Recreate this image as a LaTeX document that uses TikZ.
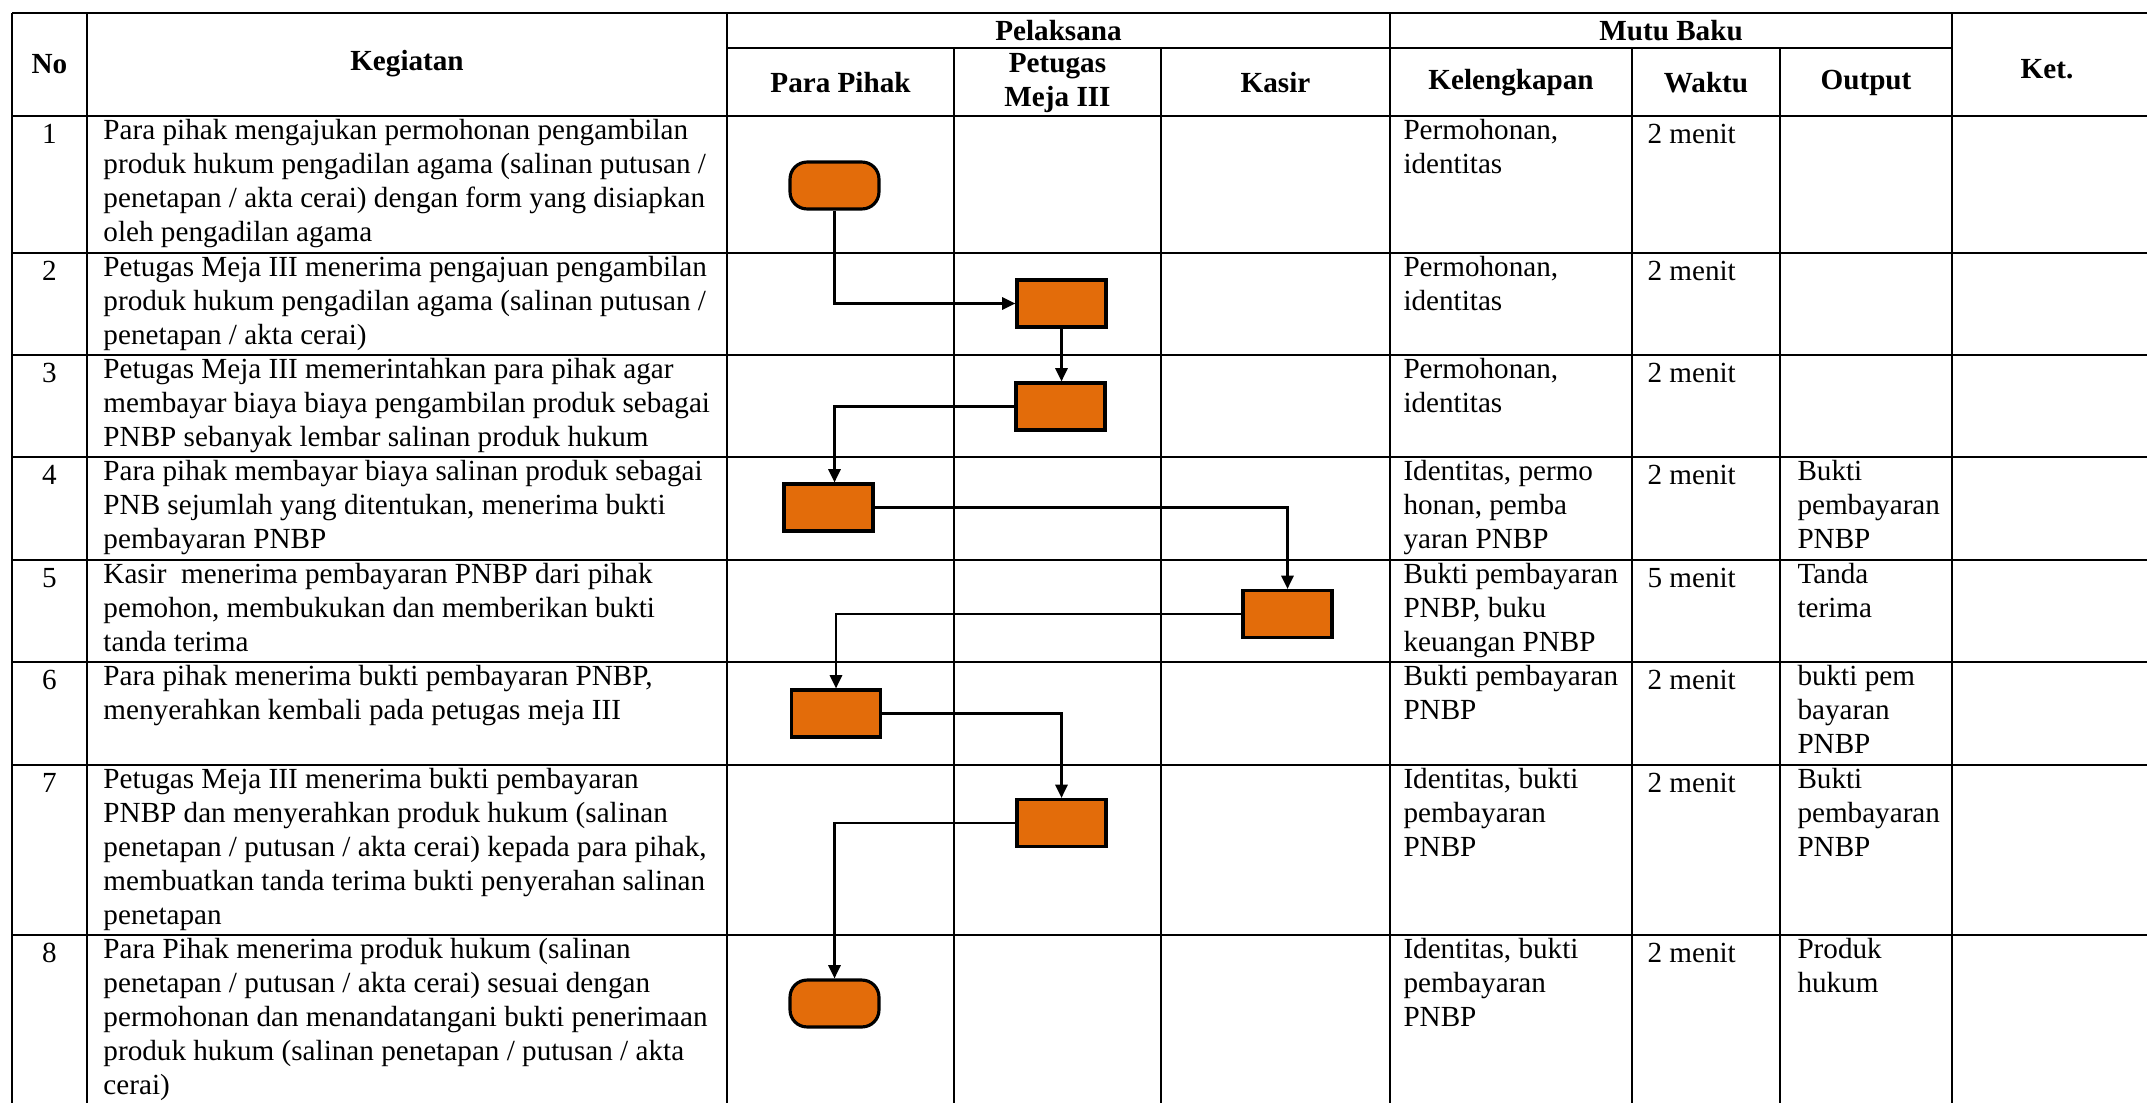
\documentclass[tikz,border=0pt]{standalone}
\usepackage{fontspec}
\setmainfont{Liberation Serif}
\usepackage{tikz}
\usetikzlibrary{arrows.meta}
\tikzstyle{sheet} = [x = 0.4115pt, y = -0.4115pt]
\definecolor{boxColor}{RGB}{227,108,10}
\tikzstyle{gridLine} = [color=black, line width=0.7pt]
\tikzstyle{headText} = [font=\bfseries\fontsize{12}{14}\selectfont, align=center, inner sep=0]
\tikzstyle{bodyText} = [font=\fontsize{12}{14}\selectfont, align=left, anchor=north west, inner sep=0, execute at begin node=\strut]
\tikzstyle{numText} = [bodyText, anchor=north]
\tikzstyle{processBox} = [draw, fill=boxColor, line width=1.3pt, minimum width=36.6pt, minimum height=19.3pt, inner sep=0]
\tikzstyle{terminalBox} = [processBox, rounded corners=7pt]
\tikzstyle{flowLine} = [line width=1.1pt, -{Triangle[length=5.5pt, width=5pt]}]
\newcommand{\padTop}{3}
\newcommand{\rowLine}[1]{\draw [gridLine] (12, #1) -- (2147, #1);}
\newcommand{\colLine}[2]{\draw [gridLine] (#1, #2) -- (#1, 1103);}
\newcommand{\cellText}[4]{\node [bodyText] (#1) at (#2, #3 + \padTop) {#4};}
\newcommand{\rowNumber}[2]{\node [numText] (no#1) at (49.5, #2 + \padTop) {#1};}

\begin{document}
\begin{tikzpicture}[sheet]
  \useasboundingbox (0, 0) rectangle (2147, 1103);
  \rowLine{13}
  \foreach \y in {116, 253, 355, 457, 560, 662, 765, 935} {\rowLine{\y}}
  \draw [gridLine] (727, 48) -- (1952, 48);
  \foreach \x in {12, 87, 727, 1390, 1952} {\colLine{\x}{13}}
  \foreach \x in {954, 1161, 1632, 1780} {\colLine{\x}{48}}

  \node [headText] (hNo) at (49.5, 64) {No};
  \node [headText] (hKegiatan) at (407, 64) {Kegiatan};
  \node [headText] (hPelaksana) at (1058.5, 31) {Pelaksana};
  \node [headText] (hPihak) at (840.5, 83) {Para Pihak};
  \node [headText] (hPetugas) at (1057.5, 83) {Petugas\\Meja III};
  \node [headText] (hKasir) at (1275.5, 83) {Kasir};
  \node [headText] (hMutu) at (1671, 31) {Mutu Baku};
  \node [headText] (hKelengkapan) at (1511, 83) {Kelengkapan};
  \node [headText] (hWaktu) at (1706, 83) {Waktu};
  \node [headText] (hOutput) at (1866, 83) {Output};
  \node [headText] (hKet) at (2047, 69) {Ket.};

  \rowNumber{1}{116}
  \cellText{keg1}{103}{116}{Para pihak mengajukan permohonan pengambilan\\produk hukum pengadilan agama (salinan putusan /\\penetapan / akta cerai) dengan form yang disiapkan\\oleh pengadilan agama}
  \cellText{kel1}{1403}{116}{Permohonan,\\identitas}
  \cellText{wkt1}{1647}{116}{2 menit}

  \rowNumber{2}{253}
  \cellText{keg2}{103}{253}{Petugas Meja III menerima pengajuan pengambilan\\produk hukum pengadilan agama (salinan putusan /\\penetapan / akta cerai)}
  \cellText{kel2}{1403}{253}{Permohonan,\\identitas}
  \cellText{wkt2}{1647}{253}{2 menit}

  \rowNumber{3}{355}
  \cellText{keg3}{103}{355}{Petugas Meja III memerintahkan para pihak agar\\membayar biaya biaya pengambilan produk sebagai\\PNBP sebanyak lembar salinan produk hukum}
  \cellText{kel3}{1403}{355}{Permohonan,\\identitas}
  \cellText{wkt3}{1647}{355}{2 menit}

  \rowNumber{4}{457}
  \cellText{keg4}{103}{457}{Para pihak membayar biaya salinan produk sebagai\\PNB sejumlah yang ditentukan, menerima bukti\\pembayaran PNBP}
  \cellText{kel4}{1403}{457}{Identitas, permo\\honan, pemba\\yaran PNBP}
  \cellText{wkt4}{1647}{457}{2 menit}
  \cellText{out4}{1797}{457}{Bukti\\pembayaran\\PNBP}

  \rowNumber{5}{560}
  \cellText{keg5}{103}{560}{Kasir~ menerima pembayaran PNBP dari pihak\\pemohon, membukukan dan memberikan bukti\\tanda terima}
  \cellText{kel5}{1403}{560}{Bukti pembayaran\\PNBP, buku\\keuangan PNBP}
  \cellText{wkt5}{1647}{560}{5 menit}
  \cellText{out5}{1797}{560}{Tanda\\terima}

  \rowNumber{6}{662}
  \cellText{keg6}{103}{662}{Para pihak menerima bukti pembayaran PNBP,\\menyerahkan kembali pada petugas meja III}
  \cellText{kel6}{1403}{662}{Bukti pembayaran\\PNBP}
  \cellText{wkt6}{1647}{662}{2 menit}
  \cellText{out6}{1797}{662}{bukti pem\\bayaran\\PNBP}

  \rowNumber{7}{765}
  \cellText{keg7}{103}{765}{Petugas Meja III menerima bukti pembayaran\\PNBP dan menyerahkan produk hukum (salinan\\penetapan / putusan / akta cerai) kepada para pihak,\\membuatkan tanda terima bukti penyerahan salinan\\penetapan}
  \cellText{kel7}{1403}{765}{Identitas, bukti\\pembayaran\\PNBP}
  \cellText{wkt7}{1647}{765}{2 menit}
  \cellText{out7}{1797}{765}{Bukti\\pembayaran\\PNBP}

  \rowNumber{8}{935}
  \cellText{keg8}{103}{935}{Para Pihak menerima produk hukum (salinan\\penetapan / putusan / akta cerai) sesuai dengan\\permohonan dan menandatangani bukti penerimaan\\produk hukum (salinan penetapan / putusan / akta\\cerai)}
  \cellText{kel8}{1403}{935}{Identitas, bukti\\pembayaran\\PNBP}
  \cellText{wkt8}{1647}{935}{2 menit}
  \cellText{out8}{1797}{935}{Produk\\hukum}

  \node [terminalBox] (start) at (834.5, 185.5) {};
  \node [processBox] (meja2) at (1061.5, 303.5) {};
  \node [processBox] (meja3) at (1060.5, 406.5) {};
  \node [processBox] (pihak4) at (828.5, 507.5) {};
  \node [processBox] (kasir5) at (1287.5, 614) {};
  \node [processBox] (pihak6) at (836, 713.5) {};
  \node [processBox] (meja7) at (1061.5, 823) {};
  \node [terminalBox] (finish) at (834.5, 1003.5) {};

  \draw [flowLine] (start.south) |- (meja2.west);
  \draw [flowLine] (meja2.south) -- (meja2.south |- meja3.north);
  \draw [flowLine] (meja3.west) -| (start.south |- pihak4.north);
  \draw [flowLine] (pihak4.east) -| (kasir5.north);
  \draw [flowLine] (kasir5.west) -| (pihak6.north);
  \draw [flowLine] (pihak6.east) -| (meja7.north);
  \draw [flowLine] (meja7.west) -| (finish.north);
\end{tikzpicture}
\end{document}
